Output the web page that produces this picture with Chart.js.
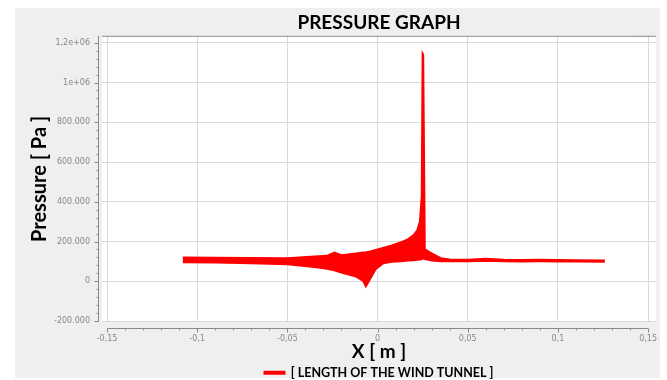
<!DOCTYPE html>
<html>
<head>
<meta charset="utf-8">
<script src="https://cdn.jsdelivr.net/npm/chart.js@4"></script>
<style>
  body { margin: 0; background: #ffffff; }
  canvas { position: absolute; left: 0; top: 0; }
</style>
</head>
<body>
<canvas id="myChart" width="667" height="380"></canvas>
<script>
// x position along the tunnel [m]
const xPos = [-0.108, -0.09, -0.07, -0.05, -0.035, -0.028, -0.024, -0.02, -0.012, -0.008, -0.0065, -0.004,
    -0.001, 0.003, 0.008, 0.013, 0.017, 0.02, 0.022, 0.0235, 0.0245, 0.025, 0.0253, 0.0262,
    0.03, 0.035, 0.04, 0.05, 0.06, 0.07, 0.08, 0.09, 0.1, 0.11, 0.126];
// upper and lower edge of the pressure band [Pa]
const upperP = [119000, 118000, 117000, 116000, 124000, 128000, 144000, 131000, 140000, 145000, 146000, 150000,
    158000, 168000, 180000, 196000, 212000, 232000, 256000, 300000, 430000, 1145000, 1140000, 160000,
    140000, 116000, 110000, 108000, 113000, 108000, 107000, 108000, 107000, 106000, 104000];
const lowerP = [96000, 94000, 91000, 86000, 72000, 63000, 55000, 44000, 24000, 2000, -26000, 14000,
    62000, 90000, 98000, 101000, 104000, 106000, 108000, 110000, 112000, 115000, 115000, 112000,
    104000, 101000, 101000, 101000, 103000, 101000, 100000, 101000, 100000, 99000, 98000];

const xTicks = [-0.15, -0.1, -0.05, 0, 0.05, 0.1, 0.15];
const xTickLabels = ['-0,15', '-0,1', '-0,05', '0', '0,05', '0,1', '0,15'];
const yTicks = [-200000, 0, 200000, 400000, 600000, 800000, 1000000, 1200000];
const yTickLabels = ['-200.000', '0', '200.000', '400.000', '600.000', '800.000', '1e+06', '1,2e+06'];

const upper = xPos.map((x, i) => ({x: x, y: upperP[i]}));
const lower = xPos.map((x, i) => ({x: x, y: lowerP[i]}));

const plotBg = {
    id: 'plotBg',
    beforeDraw(chart){
        const a = chart.chartArea;
        const ctx = chart.ctx;
        ctx.save();
        ctx.fillStyle = '#efefef';
        ctx.fillRect(15, 8, 645, 370);
        ctx.fillStyle = '#ffffff';
        ctx.fillRect(a.left, a.top, a.right - a.left, a.bottom - a.top);
        ctx.restore();
    }
};

// axis rulers with minor ticks, drawn a bit off the plot like the original
const rulers = {
    id: 'rulers',
    afterDraw(chart){
        const a = chart.chartArea;
        const ctx = chart.ctx;
        const xs = chart.scales.x, ys = chart.scales.y;
        ctx.save();
        ctx.strokeStyle = '#8a8a8a';
        ctx.lineWidth = 1;
        ctx.beginPath();
        // top border
        ctx.moveTo(a.left, a.top + 0.5);
        ctx.lineTo(a.right, a.top + 0.5);
        // y ruler
        const yx = Math.round(a.left - 4) + 0.5;
        ctx.moveTo(yx, a.top);
        ctx.lineTo(yx, a.bottom);
        for(let i = 0; i < yTicks.length; i++){
            const p = Math.round(ys.getPixelForValue(yTicks[i])) + 0.5;
            ctx.moveTo(yx, p); ctx.lineTo(yx - 4, p);
            if(i < yTicks.length - 1){
                for(let k = 1; k < 5; k++){
                    const q = Math.round(ys.getPixelForValue(yTicks[i] + k * 40000)) + 0.5;
                    ctx.moveTo(yx, q); ctx.lineTo(yx - 2, q);
                }
            }
        }
        // x ruler
        const xy = Math.round(a.bottom + 6) + 0.5;
        const x0 = xs.getPixelForValue(xTicks[0]);
        const x1 = xs.getPixelForValue(xTicks[xTicks.length - 1]);
        ctx.moveTo(x0, xy);
        ctx.lineTo(x1, xy);
        for(let i = 0; i < xTicks.length; i++){
            const p = Math.round(xs.getPixelForValue(xTicks[i])) + 0.5;
            ctx.moveTo(p, xy); ctx.lineTo(p, xy + 4);
            if(i < xTicks.length - 1){
                for(let k = 1; k < 5; k++){
                    const q = Math.round(xs.getPixelForValue(xTicks[i] + k * 0.01)) + 0.5;
                    ctx.moveTo(q, xy); ctx.lineTo(q, xy + 2);
                }
            }
        }
        ctx.stroke();
        ctx.restore();
    }
};

const ctx = document.querySelector('#myChart').getContext('2d');
const myChart = new Chart(ctx, {
    type: 'line',
    data: {
        datasets: [
            {
                label: '[ LENGTH OF THE WIND TUNNEL ]',
                data: upper,
                borderColor: '#ff0000',
                backgroundColor: '#ff0000',
                borderWidth: 2,
                pointRadius: 0,
                tension: 0
            },
            {
                label: 'lower',
                data: lower,
                borderColor: '#ff0000',
                backgroundColor: '#ff0000',
                borderWidth: 2,
                pointRadius: 0,
                tension: 0,
                fill: '-1'
            }
        ]
    },
    options: {
        responsive: false,
        animation: false,
        layout: { padding: { left: 15, right: 11, top: 8, bottom: 0 } },
        plugins: {
            title: {
                display: true,
                text: 'PRESSURE GRAPH',
                fullSize: false,
                color: '#000000',
                font: { family: 'Lato', size: 19, weight: 'bold' },
                padding: { top: 3, bottom: 2 }
            },
            legend: {
                position: 'bottom',
                fullSize: false,
                maxHeight: 14.5,
                labels: {
                    boxWidth: 20,
                    boxHeight: 2,
                    color: '#000000',
                    padding: 1,
                    font: { family: 'Lato', size: 12.5, weight: 'bold' },
                    filter: item => item.datasetIndex === 0
                }
            },
            tooltip: { enabled: false }
        },
        scales: {
            x: {
                type: 'linear',
                min: -0.1528,
                max: 0.1544,
                afterBuildTicks: s => { s.ticks = xTicks.map(v => ({value: v})); },
                grid: { color: '#d9d9d9', drawTicks: false },
                border: { display: false },
                ticks: {
                    color: '#888888',
                    padding: 12,
                    font: { family: 'DejaVu Sans', size: 8 },
                    maxRotation: 0,
                    callback: v => xTickLabels[xTicks.indexOf(v)]
                },
                title: {
                    display: true,
                    text: 'X [ m ]',
                    color: '#000000',
                    font: { family: 'Lato', size: 19, weight: 'bold', lineHeight: 1 },
                    padding: { top: 0, bottom: 4 }
                },
                afterFit: s => { s.height = 43.5; s.paddingLeft = 0; s.paddingRight = 0; }
            },
            y: {
                min: -205000,
                max: 1235000,
                afterBuildTicks: s => { s.ticks = yTicks.map(v => ({value: v})); },
                grid: { color: '#d9d9d9', drawTicks: false },
                border: { display: false },
                ticks: {
                    color: '#888888',
                    padding: 12,
                    font: { family: 'DejaVu Sans', size: 8 },
                    callback: v => yTickLabels[yTicks.indexOf(v)]
                },
                title: {
                    display: true,
                    text: 'Pressure [ Pa ]',
                    color: '#000000',
                    font: { family: 'Lato', size: 20, weight: 'bold', lineHeight: 1 },
                    padding: { top: 15, bottom: 0 }
                },
                afterFit: s => { s.width = 87; s.paddingTop = 0; s.paddingBottom = 0; }
            }
        }
    },
    plugins: [plotBg, rulers]
});
</script>
</body>
</html>
